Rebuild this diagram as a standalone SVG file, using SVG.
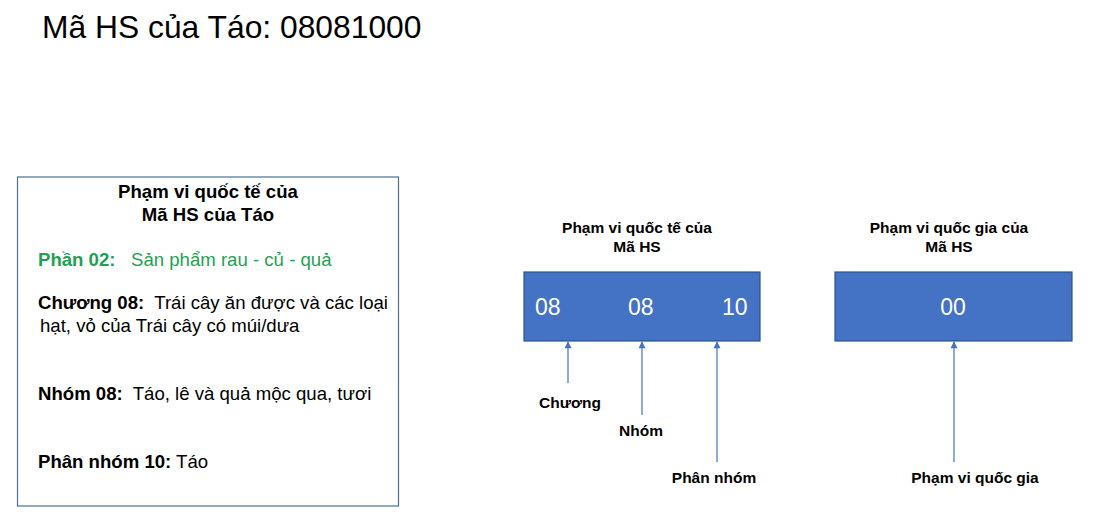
<svg xmlns="http://www.w3.org/2000/svg" width="1102" height="532" viewBox="0 0 1102 532">
<style>
text{font-family:"Liberation Sans",Arial,sans-serif;}
.b{font-weight:bold;}
.lt{font-size:18.6px;fill:#000;}
.hd{font-size:15.5px;font-weight:bold;fill:#000;text-anchor:middle;}
.num{font-size:23px;fill:#fff;}
.code{fill:#4472C4;stroke:#2F528F;stroke-width:1.2;}
.conn{stroke:#4472C4;stroke-width:1.2;fill:none;marker-end:url(#ah);}
</style>
<defs>
<marker id="ah" viewBox="0 0 10 10" refX="9" refY="5" markerWidth="8" markerHeight="7" markerUnits="userSpaceOnUse" orient="auto">
<path d="M0,0 L10,5 L0,10 z" fill="#4472C4"/>
</marker>
</defs>
<rect width="1102" height="532" fill="#fff"/>
<text id="title" x="42" y="38" font-size="31.8" fill="#000">Mã HS của Táo: 08081000</text>

<g id="info-box">
<rect x="17.5" y="177" width="381" height="329" fill="#fff" stroke="#4F6F8F" stroke-width="1.2"/>
<text class="lt b" x="208" y="198" text-anchor="middle">Phạm vi quốc tế của</text>
<text class="lt b" x="208" y="221" text-anchor="middle">Mã HS của Táo</text>
<text class="lt" x="38" y="266" fill="#1FA055" xml:space="preserve"><tspan class="b" fill="#1FA055">Phần 02:</tspan><tspan fill="#1FA055">   Sản phẩm rau - củ - quả</tspan></text>
<text class="lt" x="38" y="309" xml:space="preserve"><tspan class="b">Chương 08:</tspan>  Trái cây ăn được và các loại</text>
<text class="lt" x="40" y="332">hạt, vỏ của Trái cây có múi/dưa</text>
<text class="lt" x="38" y="400" xml:space="preserve"><tspan class="b">Nhóm 08:</tspan>  Táo, lê và quả mộc qua, tươi</text>
<text class="lt" x="38" y="468" xml:space="preserve"><tspan class="b">Phân nhóm 10:</tspan> Táo</text>
</g>

<g id="intl-code">
<text class="hd" x="637" y="233">Phạm vi quốc tế của</text>
<text class="hd" x="637" y="252">Mã HS</text>
<rect class="code" x="524" y="272" width="236" height="69"/>
<text class="num" x="535" y="315">08</text>
<text class="num" x="628" y="315">08</text>
<text class="num" x="722" y="315">10</text>
</g>

<g id="natl-code">
<text class="hd" x="949" y="233">Phạm vi quốc gia của</text>
<text class="hd" x="949" y="252">Mã HS</text>
<rect class="code" x="835" y="272" width="237" height="69"/>
<text class="num" x="953" y="315" text-anchor="middle">00</text>
</g>

<g id="label-chuong"><text class="hd" x="570" y="408">Chương</text></g>
<g id="label-nhom"><text class="hd" x="641" y="436">Nhóm</text></g>
<g id="label-phannhom"><text class="hd" x="714" y="483">Phân nhóm</text></g>
<g id="label-quocgia"><text class="hd" x="975" y="483">Phạm vi quốc gia</text></g>

<g id="connectors">
<line class="conn" x1="568" y1="383" x2="568" y2="342"/>
<line class="conn" x1="642" y1="415" x2="642" y2="342"/>
<line class="conn" x1="717" y1="462" x2="717" y2="342"/>
<line class="conn" x1="954" y1="462" x2="954" y2="342"/>
</g>
</svg>
